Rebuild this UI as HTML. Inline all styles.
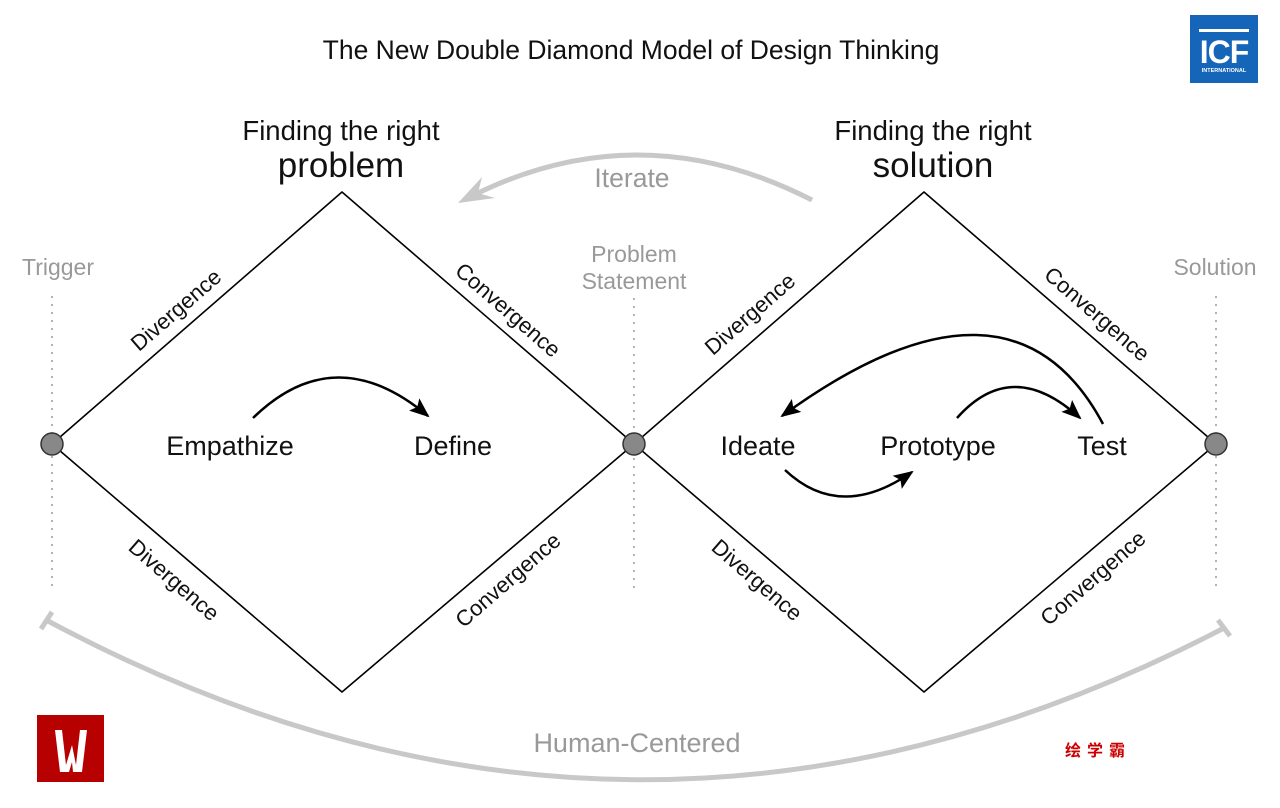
<!DOCTYPE html>
<html><head><meta charset="utf-8"><style>
html,body{margin:0;padding:0;background:#fff;}
svg{display:block;font-family:"Liberation Sans",Arial,sans-serif;}
</style></head><body>
<svg width="1280" height="808" viewBox="0 0 1280 808" xmlns="http://www.w3.org/2000/svg">
<defs>
<marker id="ah" viewBox="0 0 10 10" refX="9" refY="5" markerWidth="20" markerHeight="16" markerUnits="userSpaceOnUse" orient="auto" preserveAspectRatio="none">
<path d="M0,0 L10,5 L0,10 L2,5 Z" fill="#000"/></marker>
</defs>
<rect width="1280" height="808" fill="#fff"/>
<text x="631" y="59" font-size="26.5" text-anchor="middle" fill="#111">The New Double Diamond Model of Design Thinking</text>
<!-- ICF logo -->
<rect x="1190" y="15" width="68" height="68" fill="#1565b8"/>
<text x="1224" y="63" font-size="32" font-weight="bold" text-anchor="middle" fill="#fff" letter-spacing="-1">ICF</text>
<rect x="1199" y="29" width="50" height="3" fill="#fff"/>
<text x="1224" y="72" font-size="5.5" font-weight="bold" text-anchor="middle" fill="#fff">INTERNATIONAL</text>

<!-- headings -->
<text x="341" y="140" font-size="27.5" text-anchor="middle" fill="#111">Finding the right</text>
<text x="341" y="177" font-size="35" text-anchor="middle" fill="#111">problem</text>
<text x="933" y="140" font-size="27.5" text-anchor="middle" fill="#111">Finding the right</text>
<text x="933" y="177" font-size="35" text-anchor="middle" fill="#111">solution</text>

<!-- gray labels -->
<text x="58" y="275" font-size="23" text-anchor="middle" fill="#999">Trigger</text>
<text x="634" y="262" font-size="23" text-anchor="middle" fill="#999">Problem</text>
<text x="634" y="289" font-size="23" text-anchor="middle" fill="#999">Statement</text>
<text x="1215" y="275" font-size="23" text-anchor="middle" fill="#999">Solution</text>

<!-- dotted lines -->
<g stroke="#999" stroke-width="1.5" stroke-dasharray="2,6">
<line x1="52" y1="296" x2="52" y2="590"/>
<line x1="634" y1="298" x2="634" y2="590"/>
<line x1="1216" y1="296" x2="1216" y2="590"/>
</g>

<!-- iterate -->
<path d="M812,200 Q640,112 472,196" fill="none" stroke="#c8c8c8" stroke-width="5"/>
<path d="M458,203 L482,177 L478,193 L495,198 Z" fill="#c8c8c8"/>
<text x="632" y="187" font-size="26.5" text-anchor="middle" fill="#999">Iterate</text>

<!-- diamonds -->
<g fill="none" stroke="#000" stroke-width="1.6" stroke-linejoin="round">
<path d="M52,444 L342,192 L634,444 L342,692 Z"/>
<path d="M634,444 L924,192 L1216,444 L924,692 Z"/>
</g>
<g fill="#888" stroke="#333" stroke-width="1.5">
<circle cx="52" cy="444" r="11"/>
<circle cx="634" cy="444" r="11"/>
<circle cx="1216" cy="444" r="11"/>
</g>

<!-- edge labels -->
<g font-size="22" fill="#111" text-anchor="middle" dominant-baseline="central">
<text transform="translate(176,310) rotate(-41)">Divergence</text>
<text transform="translate(508,310) rotate(41)">Convergence</text>
<text transform="translate(174,580) rotate(41)">Divergence</text>
<text transform="translate(508,580) rotate(-41)">Convergence</text>
<text transform="translate(750,314) rotate(-41)">Divergence</text>
<text transform="translate(1097,314) rotate(41)">Convergence</text>
<text transform="translate(757,580) rotate(41)">Divergence</text>
<text transform="translate(1093,578) rotate(-41)">Convergence</text>
</g>

<!-- stage labels -->
<g font-size="27" fill="#111" text-anchor="middle">
<text x="230" y="455">Empathize</text>
<text x="453" y="455">Define</text>
<text x="758" y="455">Ideate</text>
<text x="938" y="455">Prototype</text>
<text x="1102" y="455">Test</text>
</g>

<!-- arrows -->
<g fill="none" stroke="#000" stroke-width="2.5" marker-end="url(#ah)">
<path d="M253,418 Q335,338 428,416"/>
<path d="M785,470 Q840,522 912,472"/>
<path d="M957,418 Q1012,356 1080,418"/>
<path d="M1103,424 Q1010,250 782,416"/>
</g>

<!-- human centered arc -->
<path d="M48,621 Q636,935 1224,628" fill="none" stroke="#c8c8c8" stroke-width="5"/>
<line x1="41" y1="629" x2="52" y2="612" stroke="#c8c8c8" stroke-width="5"/>
<line x1="1218" y1="620" x2="1230" y2="636" stroke="#c8c8c8" stroke-width="5"/>
<text x="637" y="752" font-size="27" text-anchor="middle" fill="#999">Human-Centered</text>

<!-- watermark logos -->
<rect x="37" y="715" width="67" height="67" fill="#b70000"/>
<path d="M55,730 L62,730 L66,765 L72,745 L76,765 L80,730 L87,730 L82,772 L73,772 L72,762 L69,772 L60,772 Z" fill="#fff"/>
<text x="1098" y="756" font-size="16" font-weight="bold" text-anchor="middle" fill="#c00" font-family="'Liberation Sans','Noto Sans CJK SC',sans-serif" letter-spacing="6">绘学霸</text>
</svg>
</body></html>
